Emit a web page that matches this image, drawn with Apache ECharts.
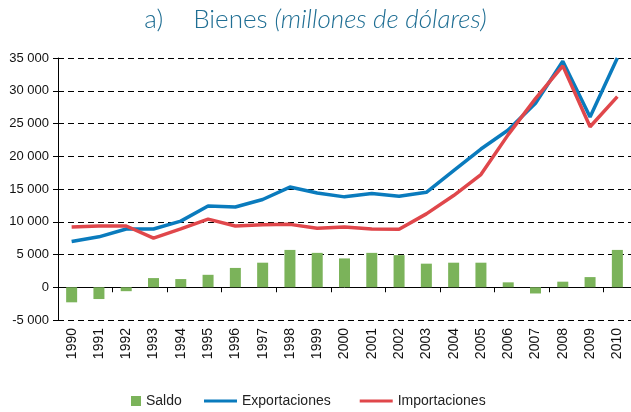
<!DOCTYPE html>
<html>
<head>
<meta charset="utf-8">
<script src="https://cdn.jsdelivr.net/npm/echarts@6/dist/echarts.min.js"></script>
<style>
  html, body { margin: 0; padding: 0; background: #fff; }
  #main { width: 631px; height: 412px; }
</style>
</head>
<body>
<div id="main"></div>
<script>
// datos
var anios = ['1990','1991','1992','1993','1994','1995','1996','1997','1998','1999','2000',
             '2001','2002','2003','2004','2005','2006','2007','2008','2009','2010'];
var saldo = [-2300,-1800,-600,1400,1250,1900,2950,3750,5700,5250,4400,
             5250,4900,3600,3750,3750,750,-950,850,1550,5700];
var exportaciones = [7000,7700,8900,8900,10100,12400,12250,13400,15300,14400,13800,
                     14300,13900,14500,17800,21100,24000,28100,34500,26000,35000];
var importaciones = [9200,9350,9350,7500,8900,10400,9350,9550,9600,9000,9200,
                     8900,8850,11200,14000,17200,23300,28800,33800,24500,29100];
var ticksY = [-5000, 35000, 5000]; // min, max, intervalo

function miles(v) {
    var s = String(Math.abs(v));
    if (s.length > 3) s = s.slice(0, s.length - 3) + ' ' + s.slice(-3);
    return (v < 0 ? '-' : '') + s;
}

var myChart = echarts.init(document.getElementById('main'));
var option = {
    animation: false,
    title: {
        text: '{a|a)}      {b|Bienes }{c|(millones de dólares)}',
        left: 'center',
        top: 2,
        textStyle: {
            rich: {
                a: { fontFamily: 'Lato', fontWeight: 300, fontSize: 26, color: '#1f6e93' },
                b: { fontFamily: 'Lato', fontWeight: 300, fontSize: 26, color: '#1f6e93' },
                c: { fontFamily: 'Lato', fontWeight: 300, fontStyle: 'italic', fontSize: 26, color: '#1f6e93' }
            }
        }
    },
    legend: [
        {
            data: [{ name: 'Saldo', icon: 'rect' }],
            left: 126, top: 389,
            itemWidth: 10, itemHeight: 10,
            textStyle: { fontFamily: 'Liberation Sans', fontSize: 14, color: '#222' }
        },
        {
            data: [{ name: 'Exportaciones', icon: 'rect' }, { name: 'Importaciones', icon: 'rect' }],
            left: 199, top: 389,
            itemWidth: 33, itemHeight: 3, itemGap: 29,
            textStyle: { fontFamily: 'Liberation Sans', fontSize: 14, color: '#222' }
        }
    ],
    grid: { left: 58, right: 0, top: 58, bottom: 92 },
    xAxis: [
        {
            type: 'category',
            data: anios,
            axisLine: { onZero: true, lineStyle: { color: '#000', width: 1 } },
            axisTick: { show: true, length: 5, lineStyle: { color: '#000' } },
            axisLabel: { show: false }
        },
        {
            type: 'category',
            data: anios,
            position: 'bottom',
            axisLine: { show: false },
            axisTick: { show: false },
            axisLabel: {
                rotate: 90, margin: 8,
                fontFamily: 'Liberation Sans', fontSize: 14, color: '#111'
            }
        }
    ],
    yAxis: {
        type: 'value',
        min: ticksY[0], max: ticksY[1], interval: ticksY[2],
        axisLine: { show: true, lineStyle: { color: '#000', width: 1 } },
        axisTick: { show: true, length: 5, lineStyle: { color: '#000' } },
        axisLabel: {
            formatter: miles, margin: 9,
            fontFamily: 'Liberation Sans', fontSize: 13, color: '#111'
        },
        splitLine: { lineStyle: { color: '#000', type: [6, 4], width: 1 } }
    },
    series: [
        {
            name: 'Saldo',
            type: 'bar',
            data: saldo,
            barWidth: 11,
            itemStyle: { color: '#7bb35a' }
        },
        {
            name: 'Exportaciones',
            type: 'line',
            data: exportaciones,
            showSymbol: false,
            symbol: 'none',
            clip: false,
            lineStyle: { color: '#0a7bbd', width: 3.5 },
            itemStyle: { color: '#0a7bbd' }
        },
        {
            name: 'Importaciones',
            type: 'line',
            data: importaciones,
            showSymbol: false,
            symbol: 'none',
            clip: false,
            lineStyle: { color: '#e0474b', width: 3.5 },
            itemStyle: { color: '#e0474b' }
        }
    ]
};
option && myChart.setOption(option);
</script>
</body>
</html>
